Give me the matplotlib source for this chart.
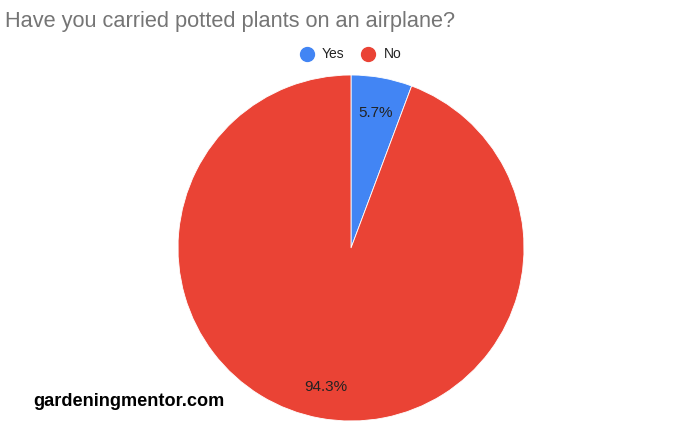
import matplotlib.pyplot as plt

# survey answers
labels = ['Yes', 'No']
shares = [5.7, 94.3]
colors = ['#4285F4', '#EA4335']

W, H = 699, 438
fig = plt.figure(figsize=(W / 100, H / 100), dpi=100)
plt.rcParams['font.family'] = ['Liberation Sans', 'DejaVu Sans']

# pie centre (351, 248) px, radius 173 px
cx, cy, r = 351, 248, 173
ax = fig.add_axes([(cx - r) / W, (H - cy - r) / H, 2 * r / W, 2 * r / H])
wedges, texts, autotexts = ax.pie(
    shares, colors=colors, startangle=90, counterclock=False,
    autopct=lambda p: f'{p:.1f}%', pctdistance=0.805,
    wedgeprops=dict(linewidth=0.6, edgecolor='white'),
    textprops=dict(fontsize=11, color='#222222'))
# nudge labels down a couple of pixels
for t in autotexts:
    x, y = t.get_position()
    t.set_position((x, y - 0.012))
ax.set_aspect('equal')
ax.set_xlim(-1, 1)
ax.set_ylim(-1, 1)
ax.axis('off')

fig.text(5 / W, 1 - 21 / H, 'Have you carried potted plants on an airplane?',
         fontsize=15.7, color='#757575', ha='left', va='center')

# legend drawn by hand
leg_items = [(307, 322), (368, 384)]
for (mx, tx), lab, col in zip(leg_items, labels, colors):
    fig.add_artist(plt.Line2D([mx / W], [1 - 54 / H], marker='o', markersize=10,
                              color=col, linestyle='none', transform=fig.transFigure))
    fig.text(tx / W, 1 - 54 / H, lab, fontsize=10, color='#222222',
             ha='left', va='center')

fig.text(33 / W, 1 - 401 / H, 'gardeningmentor.com', fontsize=13.1,
         fontweight='bold', color='black', ha='left', va='center')

fig.savefig('out.png', dpi=100)
